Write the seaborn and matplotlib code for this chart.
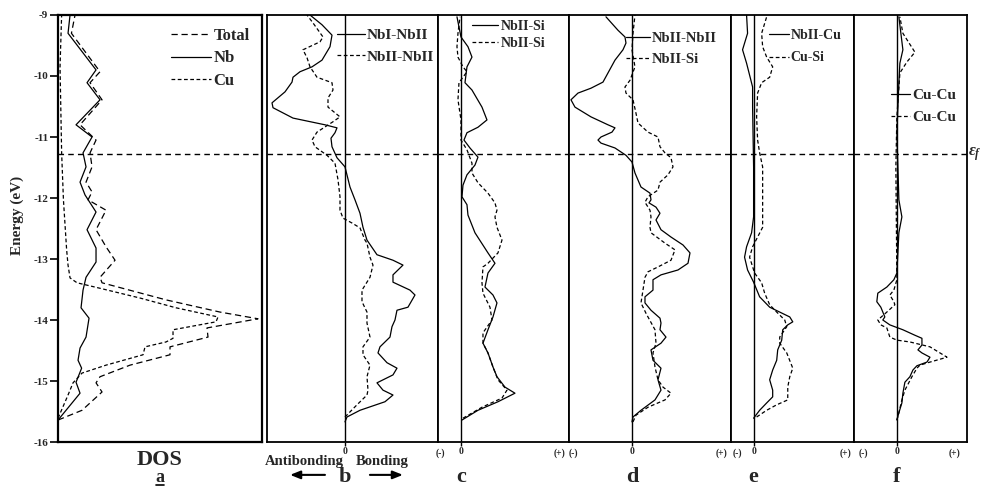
import matplotlib
matplotlib.use('Agg')
import matplotlib.pyplot as plt
import seaborn as sns

# nivel de Fermi (eV)
EF = -11.28

# --- painel a : DOS ---
e_total = [-9.00, -9.30, -9.93, -10.11, -10.39, -10.80, -11.05, -11.26, -11.49, -11.74, -11.90, -12.03,
           -12.20, -12.52, -12.80, -13.02, -13.30, -13.39, -13.67, -13.87, -13.98, -14.13, -14.28, -14.44,
           -14.57, -14.74, -14.93, -15.03, -15.18, -15.48, -15.64]
dos_total = [8.5, 6.7, 21, 16, 22, 11, 19, 16, 17, 14, 17, 15,
             24, 19, 24, 28.5, 21, 22, 54, 81, 100, 74.5, 75, 56,
             56, 36, 21, 19, 22, 12, 0]

e_nb = [-9.00, -9.30, -9.90, -10.11, -10.39, -10.80, -11.00, -11.26, -11.49, -11.74, -11.95, -12.23, -12.52,
        -12.82, -13.05, -13.30, -13.51, -13.80, -13.97, -14.28, -14.46, -14.66, -14.79, -15.02, -15.20, -15.64]
dos_nb = [6, 5, 19, 14.5, 21, 9, 17, 12.5, 14, 11, 13.5, 19, 14.5,
          19, 19, 14, 12.5, 11.5, 15.5, 14, 11, 10, 11.8, 9, 11, 0]

e_cu = [-9.00, -9.85, -11.26, -12.03, -12.85, -13.10, -13.31, -13.39, -13.48, -13.64, -13.80, -13.95,
        -14.03, -14.16, -14.30, -14.36, -14.44, -14.57, -14.74, -14.87, -15.03, -15.23, -15.61]
dos_cu = [1.8, 1, 1.8, 2.7, 4.3, 5, 6, 9.5, 21, 41, 59, 80,
          79, 57.5, 57.5, 54, 43.5, 42.5, 24, 12, 7.5, 5, 0]

# --- painel b : COOP NbI-NbII / NbII-NbII ---
e_b1 = [-9.00, -9.16, -9.33, -9.52, -9.74, -9.85, -9.93, -10.02, -10.10, -10.26, -10.44, -10.52, -10.69,
        -10.80, -10.85, -10.93, -11.02, -11.16, -11.34, -11.49, -11.82, -12.03, -12.25, -12.48, -12.69,
        -12.93, -13.02, -13.10, -13.26, -13.38, -13.51, -13.59, -13.79, -13.84, -14.00, -14.11, -14.28,
        -14.44, -14.54, -14.70, -14.79, -14.90, -15.03, -15.15, -15.23, -15.34, -15.48, -15.59, -15.67]
coop_b1 = [-35, -23, -13, -15, -23, -33, -45, -52, -53, -60, -73, -72, -52,
           -20, -8, -10, -14, -13, -8, 0, 5, 10, 15, 18, 22,
           32, 48, 58, 48, 48, 65, 70, 63, 52, 50, 47, 45,
           35, 33, 42, 52, 48, 32, 38, 48, 40, 15, 2, 0]
e_b2 = [-9.00, -9.13, -9.36, -9.44, -9.57, -9.70, -9.85, -10.02, -10.11, -10.23, -10.36, -10.51, -10.67,
        -10.75, -10.92, -11.05, -11.16, -11.30, -11.43, -11.70, -11.98, -12.20, -12.33, -12.41, -12.49,
        -12.69, -12.74, -12.97, -13.10, -13.30, -13.51, -13.70, -13.87, -14.05, -14.28, -14.44, -14.57,
        -14.74, -14.93, -15.15, -15.23, -15.39, -15.59]
coop_b2 = [-38, -32, -22, -25, -42, -38, -35, -28, -13, -12, -17, -17, -5,
           -12, -28, -33, -30, -18, -10, -7, -5, -5, -2, 7, 15,
           20, 22, 25, 28, 25, 17, 17, 22, 22, 25, 18, 18,
           25, 22, 23, 22, 12, 0]

# --- painel c : NbII-Si ---
e_c1 = [-9.03, -9.36, -9.52, -9.69, -9.85, -10.11, -10.23, -10.51, -10.72, -10.84, -10.93, -11.05, -11.18,
        -11.33, -11.46, -11.62, -11.79, -11.98, -12.11, -12.28, -12.57, -12.90, -13.07, -13.23, -13.46,
        -13.59, -13.72, -13.95, -14.16, -14.38, -14.54, -14.77, -14.93, -15.10, -15.20, -15.34, -15.48, -15.64]
coop_c1 = [-4, 0, 7, 11, 6, 4, 11, 21, 26, 17, 6, 3, 9,
           17, 14, 6, 2, 1, 6, 7, 14, 27, 34, 27, 24,
           32, 36, 32, 27, 22, 27, 32, 36, 44, 54, 37, 17, 1]
e_c2 = [-9.03, -9.30, -9.52, -9.69, -9.85, -9.93, -10.02, -10.11, -10.39, -10.72, -11.05, -11.21, -11.43,
        -11.59, -11.75, -11.92, -12.08, -12.20, -12.31, -12.48, -12.69, -12.90, -13.07, -13.13, -13.39,
        -13.56, -13.79, -14.00, -14.21, -14.38, -14.54, -14.77, -14.98, -15.15, -15.28, -15.43, -15.61]
coop_c2 = [-1, -3, -4, -3, 2, 6, 2, -2, -3, 0, 0, 6, 11,
           11, 17, 27, 34, 36, 34, 36, 41, 37, 27, 22, 21,
           22, 29, 31, 22, 22, 27, 32, 37, 46, 41, 21, 2]

# --- painel d : NbII-NbII / NbII-Si ---
e_d1 = [-9.03, -9.25, -9.36, -9.46, -9.57, -9.74, -9.95, -10.10, -10.20, -10.28, -10.39, -10.51, -10.67,
        -10.80, -10.85, -10.92, -11.00, -11.05, -11.10, -11.18, -11.30, -11.41, -11.59, -11.82, -11.92,
        -12.03, -12.08, -12.15, -12.25, -12.36, -12.52, -12.64, -12.77, -12.90, -13.07, -13.18, -13.26,
        -13.34, -13.51, -13.62, -13.72, -13.84, -13.97, -14.05, -14.16, -14.28, -14.38, -14.49, -14.66,
        -14.79, -14.98, -15.15, -15.31, -15.48, -15.59, -15.67]
coop_d1 = [-26, -14, -7, -6, -9, -17, -24, -29, -41, -54, -61, -57, -41,
           -24, -17, -20, -31, -34, -31, -17, -6, 0, 3, 9, 18,
           19, 17, 24, 28, 24, 29, 39, 51, 58, 56, 46, 29,
           21, 21, 13, 13, 19, 28, 29, 28, 34, 29, 19, 21,
           29, 26, 29, 23, 9, 1, 0]
e_d2 = [-9.00, -9.30, -9.57, -9.85, -10.07, -10.18, -10.28, -10.39, -10.61, -10.77, -10.92, -11.00, -11.16,
        -11.26, -11.34, -11.49, -11.62, -11.74, -11.87, -11.98, -12.07, -12.20, -12.31, -12.48, -12.57,
        -12.74, -12.85, -13.02, -13.13, -13.21, -13.30, -13.51, -13.72, -13.89, -14.16, -14.38, -14.54,
        -14.77, -14.98, -15.10, -15.20, -15.31, -15.43, -15.56, -15.67]
coop_d2 = [3, 1, 0, 3, -2, -7, -6, 1, 4, 6, 16, 26, 28,
           33, 39, 41, 36, 28, 26, 16, 13, 18, 19, 18, 19,
           33, 43, 39, 26, 16, 13, 11, 9, 14, 23, 24, 21,
           23, 26, 31, 39, 33, 16, 4, 1]

# --- painel e : NbII-Cu / Cu-Si ---
e_e1 = [-9.00, -9.30, -9.57, -9.79, -10.18, -10.51, -11.49, -12.31, -12.57, -12.80, -12.97, -13.18, -13.38,
        -13.62, -13.79, -13.87, -13.95, -14.03, -14.08, -14.16, -14.33, -14.49, -14.66, -14.82, -14.98,
        -15.15, -15.26, -15.36, -15.48, -15.61]
coop_e1 = [-7, -6, -11, -7, -1, -1, 0, 0, -2, -7, -9, -6, 0,
           6, 16, 26, 36, 39, 34, 29, 28, 24, 23, 19, 16,
           19, 19, 13, 6, 0]
e_e2 = [-9.03, -9.30, -9.52, -9.69, -9.85, -10.02, -10.11, -10.28, -10.67, -11.05, -11.26, -11.49, -12.03,
        -12.48, -12.80, -12.97, -13.23, -13.39, -13.56, -13.75, -13.87, -14.00, -14.11, -14.28, -14.38,
        -14.54, -14.79, -14.93, -15.10, -15.31, -15.39, -15.48, -15.59]
coop_e2 = [13, 8, 9, 13, 19, 16, 8, 4, 3, 4, 6, 9, 9,
           9, -1, -4, 1, 8, 11, 16, 23, 31, 33, 26, 26,
           33, 39, 36, 34, 34, 23, 13, 3]

# --- painel f : Cu-Cu ---
e_f1 = [-9.03, -9.57, -9.79, -10.11, -10.93, -12.03, -12.31, -12.57, -13.23, -13.34, -13.46, -13.56, -13.70,
        -13.79, -13.87, -13.95, -14.00, -14.08, -14.16, -14.25, -14.30, -14.41, -14.49, -14.54, -14.61,
        -14.69, -14.75, -14.82, -14.93, -15.02, -15.20, -15.36, -15.52, -15.64]
coop_f1 = [2, 6, 3, 2, 0, 2, 5, 2, 0, -3, -10, -19, -20,
           -16, -14, -12, -14, -7, 6, 18, 25, 25, 21, 25, 33,
           30, 20, 16, 13, 8, 6, 5, 2, 0]
e_f2 = [-9.03, -9.30, -9.61, -9.77, -9.95, -10.67, -11.49, -13.34, -13.51, -13.59, -13.70, -13.75, -13.87,
        -14.00, -14.08, -14.13, -14.28, -14.33, -14.36, -14.44, -14.61, -14.69, -14.74, -14.79, -14.93,
        -15.15, -15.31, -15.52, -15.64]
coop_f2 = [3, 6, 18, 10, 3, 0, -1, 0, -3, -7, -3, -2, -10,
           -19, -16, -10, -7, 0, 13, 33, 50, 33, 23, 20, 15,
           8, 5, 2, 0]

energia_ticks = [-9, -10, -11, -12, -13, -14, -15, -16]

sns.set_theme(style='white')
plt.rcParams['font.family'] = ['Liberation Serif', 'DejaVu Serif']
plt.rcParams['font.weight'] = 'bold'
plt.rcParams['axes.unicode_minus'] = False
plt.rcParams['mathtext.fontset'] = 'custom'
plt.rcParams['mathtext.rm'] = 'Liberation Serif'
plt.rcParams['mathtext.it'] = 'Liberation Serif:italic'
plt.rcParams['mathtext.bf'] = 'Liberation Serif:bold'

LONGO = (0, (5, 3))
CURTO = (0, (3, 2))

fig = plt.figure(figsize=(9.82, 4.87), dpi=100)
bot, alt = 0.0924, 0.8768
ax_a = fig.add_axes([0.0591, bot, 0.2077, alt])
ax_b = fig.add_axes([0.2719, bot, 0.1741, alt])
ax_c = fig.add_axes([0.4460, bot, 0.1334, alt])
ax_d = fig.add_axes([0.5794, bot, 0.1650, alt])
ax_e = fig.add_axes([0.7444, bot, 0.1253, alt])
ax_f = fig.add_axes([0.8697, bot, 0.1151, alt])


def curva(ax, x, y, ls, label):
    sns.lineplot(x=x, y=y, orient='y', estimator=None, ax=ax, color='black',
                 lw=0.9, linestyle=ls, label=label, legend=False)


def legenda(ax, ancora, hlen, fs, esp):
    ax.legend(loc='upper left', bbox_to_anchor=ancora, frameon=False, borderpad=0,
              borderaxespad=0, handlelength=hlen, handletextpad=0.15, labelspacing=esp,
              prop={'family': 'Liberation Serif', 'weight': 'bold', 'size': fs})


# painel a
curva(ax_a, dos_total, e_total, LONGO, 'Total')
curva(ax_a, dos_nb, e_nb, '-', 'Nb')
curva(ax_a, dos_cu, e_cu, CURTO, 'Cu')
ax_a.set_xlim(0, 102)
ax_a.set_xticks([])
ax_a.set_yticks(energia_ticks)
ax_a.set_yticklabels([str(t) for t in energia_ticks], fontsize=8, fontweight='bold')
ax_a.tick_params(axis='y', left=True, length=6, width=1.2, pad=1, color='black')
ax_a.set_ylabel('Energy (eV)', fontsize=11, fontweight='bold')
ax_a.yaxis.set_label_coords(-0.165, 0.53)
legenda(ax_a, (0.553, 0.970), 2.4, 12, 0.4)
ax_a.text(0.5, -0.054, 'DOS', transform=ax_a.transAxes, ha='center', va='baseline',
          fontsize=16, fontweight='bold')
ax_a.text(0.5, -0.094, 'a', transform=ax_a.transAxes, ha='center', va='baseline',
          fontsize=13, fontweight='bold')
# sublinhado do "a"
ax_a.plot([0.479, 0.521], [-0.100, -0.100], transform=ax_a.transAxes, color='black',
          lw=1.2, clip_on=False)

# paineis COOP
paineis = [
    (ax_b, (e_b1, coop_b1, 'NbI-NbII'), (e_b2, coop_b2, 'NbII-NbII'), (-78, 93), 'b'),
    (ax_c, (e_c1, coop_c1, 'NbII-Si'), (e_c2, coop_c2, 'NbII-Si'), (-23, 108), 'c'),
    (ax_d, (e_d1, coop_d1, 'NbII-NbII'), (e_d2, coop_d2, 'NbII-Si'), (-63, 99), 'd'),
    (ax_e, (e_e1, coop_e1, 'NbII-Cu'), (e_e2, coop_e2, 'Cu-Si'), (-22.5, 100), 'e'),
    (ax_f, (e_f1, coop_f1, 'Cu-Cu'), (e_f2, coop_f2, 'Cu-Cu'), (-42.7, 70), 'f'),
]
for ax, s1, s2, lim, letra in paineis:
    curva(ax, s1[1], s1[0], '-', s1[2])
    curva(ax, s2[1], s2[0], CURTO, s2[2])
    ax.axvline(0, color='black', lw=1.0)
    ax.set_xlim(*lim)
    ax.set_yticks([])
    ax.set_xticks([0])
    ax.set_xticklabels(['0'], fontsize=7, fontweight='bold')
    ax.tick_params(axis='x', bottom=True, length=3, width=1.0, pad=0.5, color='black')
    ax.text(0, -0.093, letra, transform=ax.get_xaxis_transform(), ha='center', va='baseline',
            fontsize=16, fontweight='bold')

legenda(ax_b, (0.41, 0.968), 1.8, 11, 0.5)
legenda(ax_c, (0.26, 0.988), 1.9, 10, 0.27)
legenda(ax_d, (0.355, 0.961), 1.6, 10.5, 0.55)
legenda(ax_e, (0.31, 0.968), 1.4, 10, 0.7)
legenda(ax_f, (0.33, 0.828), 1.2, 11, 0.55)

# (-) e (+)
for ax, xm, xp in [(ax_c, 0.02, 0.93), (ax_d, 0.03, 0.94), (ax_e, 0.05, 0.93), (ax_f, 0.08, 0.89)]:
    ax.text(xm, -0.026, '(-)', transform=ax.transAxes, ha='center', va='center', fontsize=7)
    ax.text(xp, -0.026, '(+)', transform=ax.transAxes, ha='center', va='center', fontsize=7)

ax_b.text(0.216, -0.054, 'Antibonding', transform=ax_b.transAxes, ha='center', va='baseline',
          fontsize=10.5, fontweight='bold')
ax_b.text(0.673, -0.054, 'Bonding', transform=ax_b.transAxes, ha='center', va='baseline',
          fontsize=10.5, fontweight='bold')
seta = dict(arrowstyle='-|>,head_length=0.5,head_width=0.2', color='black', lw=1.5,
            shrinkA=0, shrinkB=0)
ax_b.annotate('', xy=(0.135, -0.077), xytext=(0.339, -0.077), xycoords='axes fraction',
              arrowprops=seta, annotation_clip=False)
ax_b.annotate('', xy=(0.795, -0.077), xytext=(0.602, -0.077), xycoords='axes fraction',
              arrowprops=seta, annotation_clip=False)

for ax in [ax_a, ax_b, ax_c, ax_d, ax_e, ax_f]:
    ax.set_ylim(-16, -9)
    ax.set_xlabel('')
    if ax is not ax_a:
        ax.set_ylabel('')
    ax.axhline(EF, color='black', lw=1.0, linestyle=(0, (4, 3)))
    for sp in ax.spines.values():
        sp.set_color('black')
        sp.set_linewidth(1.3)
for sp in ax_a.spines.values():
    sp.set_linewidth(1.6)

ax_f.text(1.005, EF, r'$\varepsilon_f$', transform=ax_f.get_yaxis_transform(), ha='left',
          va='center', fontsize=12)

fig.savefig('out.png', dpi=100, facecolor='white')
